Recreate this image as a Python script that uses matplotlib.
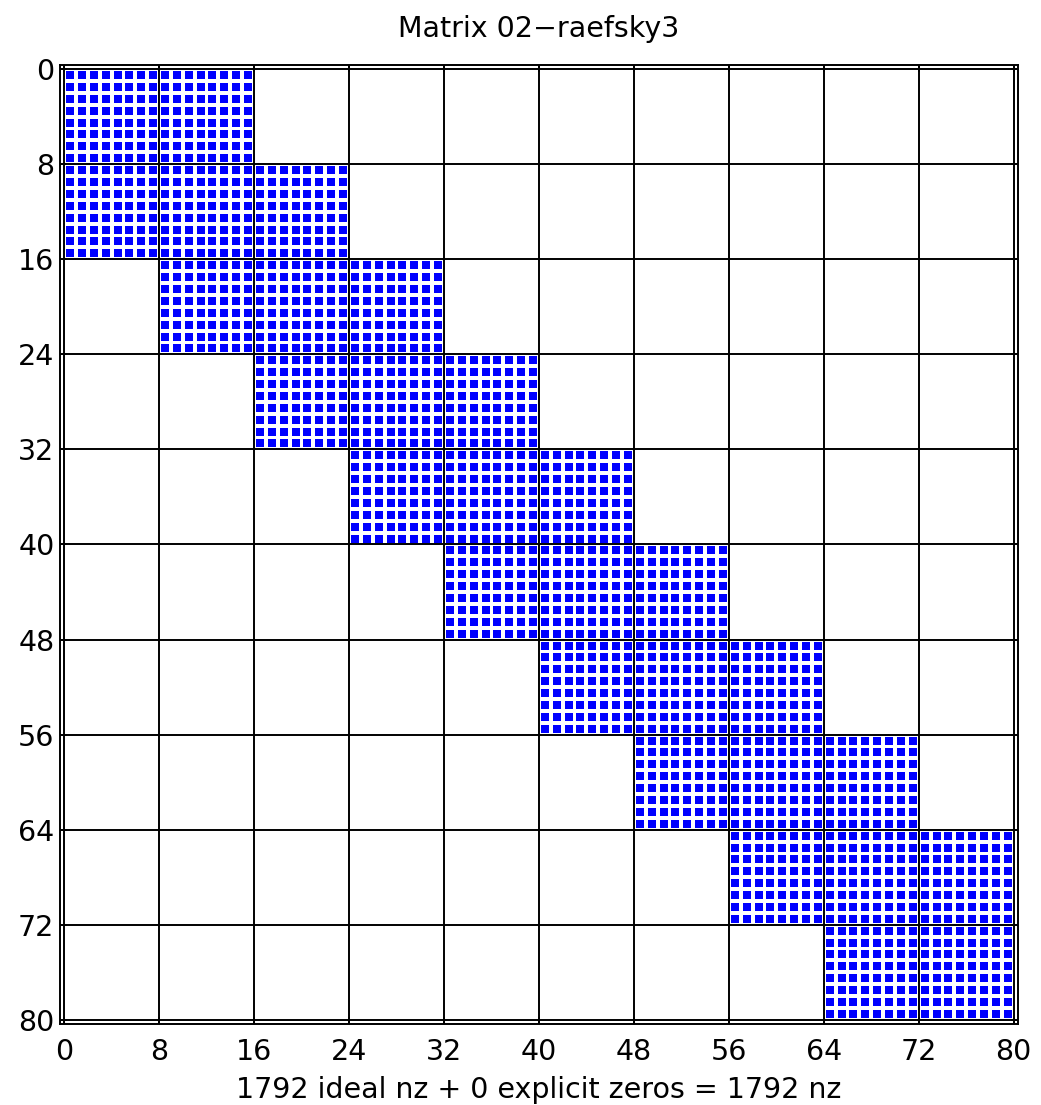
import numpy as np
import matplotlib
matplotlib.use("Agg")
import matplotlib.pyplot as plt

# --- dati: struttura a blocchi della matrice (80x80, blocchi 8x8) ---
n = 80
block_size = 8
# blocchi non nulli (riga di blocco, colonna di blocco)
block_rows = [0, 0, 1, 1, 1, 2, 2, 2, 3, 3, 3, 4, 4, 4, 5, 5, 5, 6, 6, 6, 7, 7, 7, 8, 8, 8, 9, 9]
block_cols = [0, 1, 0, 1, 2, 1, 2, 3, 2, 3, 4, 3, 4, 5, 4, 5, 6, 5, 6, 7, 6, 7, 8, 7, 8, 9, 8, 9]
ticks = [0, 8, 16, 24, 32, 40, 48, 56, 64, 72, 80]
title = "Matrix 02\u2212raefsky3"
xlabel = "1792 ideal nz + 0 explicit zeros = 1792 nz"

pattern = np.zeros((n // block_size, n // block_size))
pattern[block_rows, block_cols] = 1
A = np.kron(pattern, np.ones((block_size, block_size)))
rows, cols = np.nonzero(A)

plt.rcParams['font.family'] = ['DejaVu Sans']

fig = plt.figure(figsize=(10.41, 11.05), dpi=100)
ax = fig.add_axes([0.0576, 0.0733, 0.9202, 0.8679])

ax.plot(cols + 0.5, rows + 0.5, 's', color='#0000ff', markersize=5.6,
        markeredgewidth=0, linestyle='none', zorder=3)

ax.set_xlim(-0.35, 80.35)
ax.set_ylim(80.35, -0.35)
ax.set_xticks(ticks)
ax.set_yticks(ticks)
ax.grid(True, color='black', linewidth=1.4)
ax.set_axisbelow(False)
ax.tick_params(direction='in', length=5, width=1.2, top=True, right=True,
               labelsize=20.5)
ax.tick_params(axis='x', pad=10)
ax.tick_params(axis='y', pad=4)
for s in ax.spines.values():
    s.set_linewidth(1.4)

ax.set_title(title, fontsize=20.5, pad=20)
ax.set_xlabel(xlabel, fontsize=20.5, labelpad=7)

fig.savefig("out.png", dpi=100)
